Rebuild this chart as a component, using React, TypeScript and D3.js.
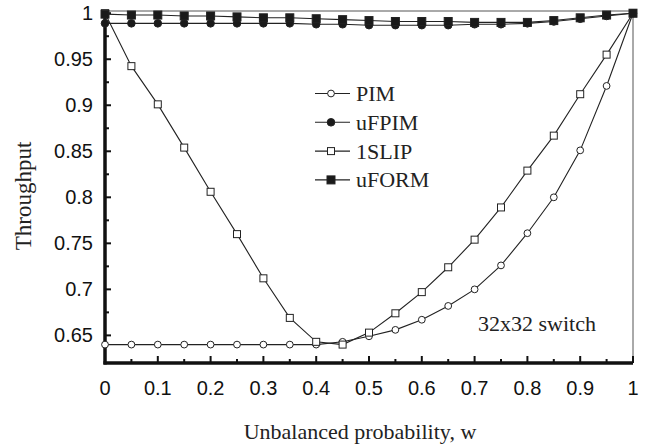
import React, { useEffect, useRef } from 'react';
import * as d3 from 'd3';

// unbalanced probability w
const wValues = [0, 0.05, 0.1, 0.15, 0.2, 0.25, 0.3, 0.35, 0.4, 0.45, 0.5, 0.55, 0.6, 0.65, 0.7, 0.75, 0.8, 0.85, 0.9, 0.95, 1];

const pim = [0.640, 0.640, 0.640, 0.640, 0.640, 0.640, 0.640, 0.640, 0.640, 0.643, 0.649, 0.656, 0.667, 0.682, 0.700, 0.726, 0.761, 0.800, 0.851, 0.921, 1.0];
const ufpim = [0.989, 0.989, 0.989, 0.989, 0.989, 0.989, 0.989, 0.989, 0.988, 0.988, 0.987, 0.987, 0.987, 0.987, 0.988, 0.988, 0.989, 0.991, 0.994, 0.997, 1.0];
const islip = [1.0, 0.9425, 0.901, 0.854, 0.806, 0.760, 0.712, 0.669, 0.643, 0.640, 0.653, 0.674, 0.697, 0.724, 0.754, 0.789, 0.829, 0.867, 0.912, 0.955, 1.0];
const uform = [0.999, 0.998, 0.998, 0.997, 0.997, 0.996, 0.995, 0.995, 0.994, 0.993, 0.992, 0.991, 0.991, 0.991, 0.990, 0.990, 0.990, 0.992, 0.995, 0.998, 1.0];

const xTicks = [0, 0.1, 0.2, 0.3, 0.4, 0.5, 0.6, 0.7, 0.8, 0.9, 1];
const yTicks = [0.65, 0.7, 0.75, 0.8, 0.85, 0.9, 0.95, 1];

const series = [
  { name: 'PIM', values: pim, shape: 'circle', filled: false },
  { name: 'uFPIM', values: ufpim, shape: 'circle', filled: true },
  { name: '1SLIP', values: islip, shape: 'square', filled: false },
  { name: 'uFORM', values: uform, shape: 'square', filled: true },
];

function App() {
  const ref = useRef<SVGSVGElement>(null);

  useEffect(() => {
    const svg = d3.select(ref.current);
    svg.selectAll('*').remove();

    const left = 105, right = 633, top = 11, bottom = 363;

    const x = d3.scaleLinear().domain([0, 1]).range([left, right]);
    const y = d3.scaleLinear().domain([0.62, 1.0024]).range([bottom, top]);

    // thin top / right frame
    svg.append('line').attr('x1', left).attr('x2', right).attr('y1', top).attr('y2', top)
      .attr('stroke', '#555').attr('stroke-width', 1);
    svg.append('line').attr('x1', right).attr('x2', right).attr('y1', top).attr('y2', bottom)
      .attr('stroke', '#555').attr('stroke-width', 1);

    // y ticks (inside)
    const yMinor = d3.range(0.675, 0.99, 0.05);
    svg.selectAll('.ymaj').data(yTicks).enter().append('line')
      .attr('x1', left).attr('x2', left + 6)
      .attr('y1', d => y(d)).attr('y2', d => y(d))
      .attr('stroke', '#111').attr('stroke-width', 2);
    svg.selectAll('.ymin').data(yMinor).enter().append('line')
      .attr('x1', left).attr('x2', left + 4)
      .attr('y1', d => y(d)).attr('y2', d => y(d))
      .attr('stroke', '#111').attr('stroke-width', 2);
    svg.selectAll('.ylab').data(yTicks).enter().append('text')
      .attr('x', 93).attr('y', d => y(d))
      .attr('dy', '0.35em')
      .attr('text-anchor', 'end')
      .attr('font-family', '"Liberation Sans", Arial, sans-serif')
      .attr('font-size', 20)
      .attr('fill', '#111')
      .text(d => d3.format('')(d));

    // x ticks (inside)
    const xMinor = d3.range(0.05, 1, 0.1);
    svg.selectAll('.xmaj').data(xTicks.slice(1)).enter().append('line')
      .attr('x1', d => x(d)).attr('x2', d => x(d))
      .attr('y1', bottom).attr('y2', bottom - 7)
      .attr('stroke', '#111').attr('stroke-width', 2);
    svg.selectAll('.xmin').data(xMinor).enter().append('line')
      .attr('x1', d => x(d)).attr('x2', d => x(d))
      .attr('y1', bottom).attr('y2', bottom - 4)
      .attr('stroke', '#111').attr('stroke-width', 2);
    svg.selectAll('.xlab').data(xTicks).enter().append('text')
      .attr('x', d => x(d)).attr('y', 395)
      .attr('text-anchor', 'middle')
      .attr('font-family', '"Liberation Sans", Arial, sans-serif')
      .attr('font-size', 20)
      .attr('fill', '#111')
      .text(d => d3.format('')(d));

    // thick left / bottom axes
    svg.append('line').attr('x1', left).attr('x2', left).attr('y1', top).attr('y2', bottom + 1.5)
      .attr('stroke', '#111').attr('stroke-width', 3.5);
    svg.append('line').attr('x1', left - 1.5).attr('x2', right).attr('y1', bottom).attr('y2', bottom)
      .attr('stroke', '#111').attr('stroke-width', 3.5);

    // axis titles
    svg.append('text')
      .attr('x', 360).attr('y', 439)
      .attr('text-anchor', 'middle')
      .attr('font-family', '"Liberation Serif", "Times New Roman", serif')
      .attr('font-size', 22)
      .attr('fill', '#222')
      .text('Unbalanced probability, w');
    svg.append('text')
      .attr('transform', 'translate(31,196) rotate(-90)')
      .attr('text-anchor', 'middle')
      .attr('font-family', '"Liberation Serif", "Times New Roman", serif')
      .attr('font-size', 23)
      .attr('fill', '#222')
      .text('Throughput');

    const drawMarker = (g: any, shape: string, filled: boolean, cx: number, cy: number) => {
      if (shape === 'circle') {
        g.append('circle').attr('cx', cx).attr('cy', cy).attr('r', filled ? 3.8 : 3.4)
          .attr('fill', filled ? '#1a1a1a' : '#fff')
          .attr('stroke', '#222').attr('stroke-width', 1);
      } else {
        const s = filled ? 8 : 7;
        g.append('rect').attr('x', cx - s / 2).attr('y', cy - s / 2).attr('width', s).attr('height', s)
          .attr('fill', filled ? '#1a1a1a' : '#fff')
          .attr('stroke', '#222').attr('stroke-width', 1);
      }
    };

    const line = d3.line<number>()
      .x((d, i) => x(wValues[i]))
      .y(d => y(d));

    series.forEach(s => {
      svg.append('path')
        .attr('d', line(s.values))
        .attr('fill', 'none')
        .attr('stroke', '#222')
        .attr('stroke-width', 1.1);
    });
    series.forEach(s => {
      const g = svg.append('g');
      s.values.forEach((v, i) => drawMarker(g, s.shape, s.filled, x(wValues[i]), y(v)));
    });

    // legend
    const lg = svg.append('g');
    series.forEach((s, i) => {
      const ly = 93.5 + i * 28.8;
      lg.append('line').attr('x1', 315).attr('x2', 350).attr('y1', ly).attr('y2', ly)
        .attr('stroke', '#222').attr('stroke-width', 1.1);
      drawMarker(lg, s.shape, s.filled, 331, ly);
      lg.append('text')
        .attr('x', 356).attr('y', ly + 7.5)
        .attr('font-family', '"Liberation Serif", "Times New Roman", serif')
        .attr('font-size', 22)
        .attr('fill', '#222')
        .text(s.name);
    });

    svg.append('text')
      .attr('x', 478).attr('y', 331)
      .attr('font-family', '"Liberation Serif", "Times New Roman", serif')
      .attr('font-size', 22)
      .attr('fill', '#222')
      .text('32x32 switch');
  }, []);

  return (
    <svg ref={ref} width={653} height={445}
      style={{ position: 'absolute', left: 0, top: 0, background: '#fff' }} />
  );
}

export default App;
